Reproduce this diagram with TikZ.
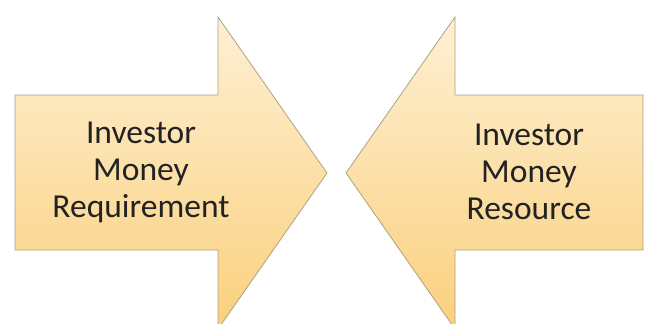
\documentclass[tikz,border=0pt]{standalone}
\usepackage{fontspec}
\setmainfont{Carlito}
\usepackage{tikz}
\usetikzlibrary{positioning,calc}
\usepackage{xcolor}
\definecolor{arrowtop}{RGB}{254, 240, 212}
\definecolor{arrowbottom}{RGB}{250, 208, 125}
\definecolor{arrowline}{RGB}{175, 160, 130}
\definecolor{labelcolor}{RGB}{34, 34, 34}

\begin{document}
\begin{tikzpicture}[
    x=1pt, y=-1pt,
    bigarrow/.style={draw=arrowline, line width=0.8pt, line join=miter, top color=arrowtop, bottom color=arrowbottom},
    label/.style={align=center, text=labelcolor, font=\fontsize{33.5}{37}\selectfont, inner sep=0pt}
]
    \clip (0,0) rectangle (648,324);
    \useasboundingbox (0,0) rectangle (648,324);

    % Left arrow
    \draw[bigarrow] (15,95) -- (218,95) -- (218,17) -- (327,173)
        -- (218,329) -- (218,250) -- (15,250) -- cycle;

    % Right arrow
    \draw[bigarrow] (643,95) -- (455,95) -- (455,17) -- (346,173)
        -- (455,329) -- (455,250) -- (643,250) -- cycle;

    % Labels
    \node[label] (req) at (141,172) {Investor\\Money\\Requirement};
    \node[label] (res) at (529,172) {Investor\\Money\\Resource};
\end{tikzpicture}
\end{document}
